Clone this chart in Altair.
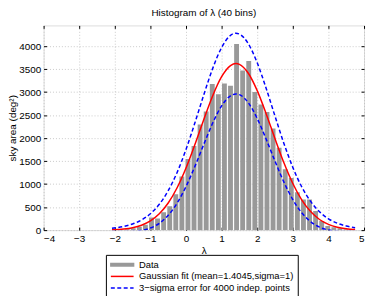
import altair as alt
import pandas as pd
import numpy as np

# ---- data ----
bin_start = -2.08
bin_width = 0.17075
bar_values = [5, 10, 20, 40, 75, 115, 275, 255, 390, 520,
              780, 1168, 1545, 1828, 2294, 2580, 3176, 2955, 3190, 3140,
              4045, 3470, 3677, 3000, 2731, 2566, 2208, 1792, 1326, 1133,
              824, 667, 667, 415, 200, 92, 65, 40, 20, 10]

curve_x = [-2.08, -1.75, -1.5, -1.25, -1.0, -0.75, -0.5, -0.25, 0.0, 0.25,
           0.5, 0.75, 1.0, 1.25, 1.4, 1.5, 1.75, 2.0, 2.25, 2.5,
           2.75, 3.0, 3.25, 3.5, 3.75, 4.0, 4.25, 4.5, 4.75]
fit_y = [8, 25, 53, 107, 201, 355, 590, 921, 1350, 1859,
         2405, 2922, 3336, 3577, 3620, 3604, 3410, 3032, 2532, 1987,
         1464, 1014, 659, 403, 231, 125, 63, 30, 13]
upper_y = [40, 80, 134, 220, 357, 562, 857, 1254, 1754, 2333,
           2944, 3516, 3970, 4234, 4281, 4263, 4051, 3637, 3085, 2477,
           1884, 1364, 941, 624, 398, 247, 150, 90, 54]
lower_y = [-23, -30, -27, -7, 45, 148, 323, 588, 947, 1386,
           1866, 2328, 2702, 2920, 2959, 2945, 2769, 2427, 1979, 1498,
           1044, 664, 377, 183, 64, 2, -24, -30, -27]

S_DATA = "Data"
S_FIT = "Gaussian fit (mean=1.4045,sigma=1)"
S_ERR = "3\u2212sigma error for 4000 indep. points"
series_names = [S_DATA, S_FIT, S_ERR]
series_colors = ["#999999", "#ff0000", "#0000ff"]

x_ticks = [-4, -3, -2, -1, 0, 1, 2, 3, 4, 5]
y_ticks = [0, 500, 1000, 1500, 2000, 2500, 3000, 3500, 4000]

FONT = "Liberation Sans"

# ---- tables ----
centers = bin_start + bin_width * (np.arange(len(bar_values)) + 0.5)
bars = pd.DataFrame({
    "x0": centers - 0.4 * bin_width,
    "x1": centers + 0.4 * bin_width,
    "v": bar_values,
    "base": 0,
    "series": S_DATA,
})
fit = pd.DataFrame({"x": curve_x, "v": fit_y, "series": S_FIT})
err = pd.concat([
    pd.DataFrame({"x": curve_x, "v": upper_y, "series": S_ERR, "which": "up"}),
    pd.DataFrame({"x": curve_x, "v": lower_y, "series": S_ERR, "which": "lo"}),
])

xscale = alt.Scale(domain=[-4, 5], nice=False, zero=False)
yscale = alt.Scale(domain=[0, 4450], nice=False)
cscale = alt.Scale(domain=series_names, range=series_colors)

legend = alt.Legend(
    title=None, orient="none", legendX=63, legendY=232,
    fillColor="white", strokeColor="#000000", padding=4,
    labelFont=FONT, labelFontSize=9.5, labelColor="black",
    symbolSize=100, symbolOffset=6.5, labelOffset=11, rowPadding=0.8,
    symbolType=alt.ExprRef("datum.index === 0 ? 'M-2.3,-0.25H2.3V0.25H-2.3Z' : 'M-2.3,0H2.3'"),
    symbolStrokeColor=alt.ExprRef("datum.index === 0 ? 'transparent' : (datum.index === 1 ? '#ff0000' : '#0000ff')"),
    symbolDash=alt.ExprRef("datum.index === 2 ? [4, 2.5] : []"),
    symbolStrokeWidth=1.5,
    symbolOpacity=1,
)

common_axis = dict(labelFont=FONT, labelFontSize=10, labelColor="black",
                   titleFont=FONT, titleFontSize=10, titleColor="black",
                   titleFontWeight="normal", tickColor="black",
                   domain=False, tickSize=3, offset=-3,
                   gridColor="#bdbdbd", gridDash=[1, 2], gridWidth=0.8)

x_bottom = alt.Axis(orient="bottom", values=x_ticks, format="d", title="λ",
                    grid=True, labelPadding=3, titlePadding=3, **common_axis)
y_left = alt.Axis(orient="left", values=y_ticks, format="d",
                  title="sky area (deg²)", grid=True, labelPadding=3,
                  titlePadding=1, **common_axis)
x_top = alt.Axis(orient="top", values=x_ticks, labels=False, title=None,
                 grid=False, **common_axis)
y_right = alt.Axis(orient="right", values=y_ticks, labels=False, title=None,
                   grid=False, **common_axis)

bar_layer = alt.Chart(bars).mark_bar(clip=True).encode(
    x=alt.X("x0:Q", scale=xscale, axis=x_bottom),
    x2="x1:Q",
    y=alt.Y("v:Q", scale=yscale, axis=y_left, stack=None),
    y2="base:Q",
    color=alt.Color("series:N", scale=cscale, legend=legend),
)

fit_layer = alt.Chart(fit).mark_line(clip=True, strokeWidth=1.5, interpolate="monotone").encode(
    x=alt.X("x:Q", scale=xscale, axis=x_top),
    y=alt.Y("v:Q", scale=yscale, axis=y_right),
    color=alt.Color("series:N", scale=cscale, legend=legend),
)

err_layer = alt.Chart(err).mark_line(clip=True, strokeWidth=1.5, strokeDash=[4, 2.5],
                                     interpolate="monotone").encode(
    x=alt.X("x:Q", scale=xscale, axis=None),
    y=alt.Y("v:Q", scale=yscale, axis=None),
    color=alt.Color("series:N", scale=cscale, legend=legend),
    detail="which:N",
)

chart = alt.layer(bar_layer, fit_layer, err_layer).properties(
    width=324, height=207,
    title=alt.TitleParams("Histogram of λ (40 bins)", font=FONT, fontSize=10,
                          fontWeight="normal", color="black", offset=7),
    autosize=alt.AutoSizeParams(type="none"),
    padding={"left": 36, "top": 16, "right": 2, "bottom": 65},
).configure_view(stroke="black", strokeWidth=1).configure(background="white")

chart.save("out.html", embed_options={"renderer": "svg", "actions": False})
